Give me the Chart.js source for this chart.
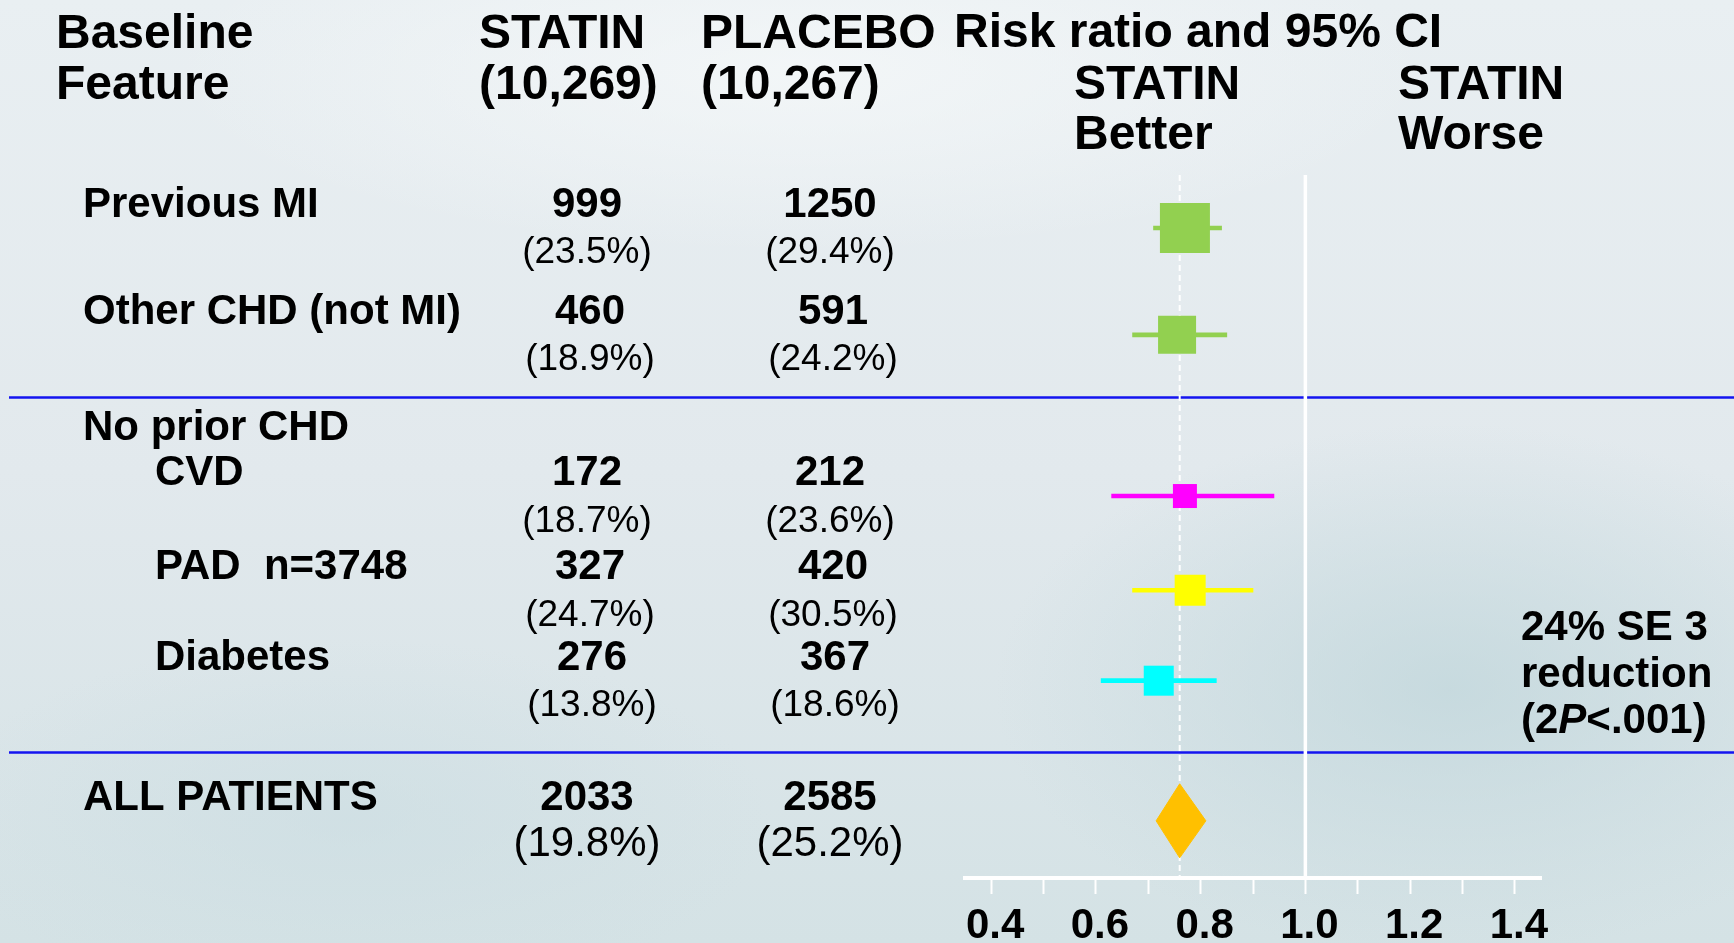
<!DOCTYPE html>
<html>
<head>
<meta charset="utf-8">
<title>Risk ratio by baseline feature</title>
<script src="https://cdn.jsdelivr.net/npm/chart.js@4.4.1/dist/chart.umd.min.js"></script>
<style>
  html, body { margin: 0; padding: 0; overflow: hidden; }
  body {
    width: 1734px;
    height: 943px;
    background:
      radial-gradient(ellipse 650px 380px at 1450px 690px, rgba(192,214,219,0.75), rgba(192,214,219,0) 70%),
      radial-gradient(ellipse 600px 260px at 350px 820px, rgba(203,221,226,0.6), rgba(203,221,226,0) 70%),
      radial-gradient(ellipse 900px 260px at 800px 70px, rgba(245,248,249,0.8), rgba(245,248,249,0) 70%),
      linear-gradient(180deg, #e9eff2 0%, #e2e9ed 50%, #d4e2e5 100%);
  }
  #forest { display: block; }
</style>
</head>
<body>
<canvas id="forest" width="1734" height="943"></canvas>
<script>
const features = ['Previous MI', 'Other CHD (not MI)', 'CVD', 'PAD  n=3748', 'Diabetes', 'ALL PATIENTS'];
const statinEvents = [999, 460, 172, 327, 276, 2033];
const statinPct = [23.5, 18.9, 18.7, 24.7, 13.8, 19.8];
const placeboEvents = [1250, 591, 212, 420, 367, 2585];
const placeboPct = [29.4, 24.2, 23.6, 30.5, 18.6, 25.2];
const riskRatio = [0.77, 0.755, 0.77, 0.78, 0.72, 0.76];
const ciLow = [0.71, 0.67, 0.63, 0.67, 0.61, 0.715];
const ciHigh = [0.84, 0.85, 0.94, 0.90, 0.83, 0.81];
const tickLabels = ['0.4', '0.6', '0.8', '1.0', '1.2', '1.4'];
const statinN = 10269;
const placeboN = 10267;

// layout: row slots on the (hidden) y scale, indented rows, separators
const Y_MIN = 0, Y_MAX = 15;
const rowSlot = [1.13, 3.41, 6.85, 8.86, 10.79, 13.78];
const indented = [false, false, true, true, true, false];
const colNudge = [0, 3, 0, 3, 5, 0];
const separatorSlot = [4.74, 12.32];
const boxColors = ['#92d050', '#92d050', '#ff00ff', '#ffff00', '#00ffff'];
const boxSide = [50, 38, 24, 31, 30];
const DIAMOND_HALF = 0.79;

const FONT = '"Liberation Sans", Arial, Helvetica, sans-serif';
const sub = [0, 1, 2, 3, 4];
const all = 5;

const tablePlugin = {
  id: 'tablePlugin',
  beforeDatasetsDraw(chart) {
    const ctx = chart.ctx;
    const y = chart.scales.y;
    ctx.save();
    ctx.strokeStyle = '#1414f0';
    ctx.lineWidth = 2.5;
    separatorSlot.forEach(s => {
      const py = Math.round(y.getPixelForValue(s)) + 0.5;
      ctx.beginPath();
      ctx.moveTo(9, py);
      ctx.lineTo(chart.width, py);
      ctx.stroke();
    });
    ctx.restore();
  },
  afterDraw(chart) {
    const ctx = chart.ctx;
    const y = chart.scales.y;
    const put = (s, x, py, font, align) => {
      ctx.font = font;
      ctx.textAlign = align || 'left';
      ctx.fillText(s, x, py);
    };
    const head = 'bold 48px ' + FONT;
    const bold = 'bold 42px ' + FONT;
    ctx.save();
    ctx.fillStyle = '#000';
    ctx.textBaseline = 'alphabetic';

    // column headings
    put('Baseline', 56, 47.5, head);
    put('Feature', 56, 99, head);
    put('STATIN', 479, 47.5, head);
    put('(' + statinN.toLocaleString('en-US') + ')', 479, 99, head);
    put('PLACEBO', 701, 47.5, head);
    put('(' + placeboN.toLocaleString('en-US') + ')', 701, 99, head);
    put('Risk ratio and 95% CI', 954, 47, head);
    put('STATIN', 1074, 99, head);
    put('Better', 1074, 149, head);
    put('STATIN', 1398, 99, head);
    put('Worse', 1398, 149, head);

    // one block per row: label, event counts, percentages
    features.forEach((f, i) => {
      const cy = y.getPixelForValue(rowSlot[i]);
      const base = cy - 11;
      const dx = colNudge[i];
      const pctFont = (i === all ? '42px ' : '37px ') + FONT;
      if (i === 2) put('No prior CHD', 83, base - 45, bold);
      put(f, indented[i] ? 155 : 83, base, bold);
      put(String(statinEvents[i]), 587 + dx, base, bold, 'center');
      put(String(placeboEvents[i]), 830 + dx, base, bold, 'center');
      put('(' + statinPct[i].toFixed(1) + '%)', 587 + dx, cy + 35.5, pctFont, 'center');
      put('(' + placeboPct[i].toFixed(1) + '%)', 830 + dx, cy + 35.5, pctFont, 'center');
    });

    // overall reduction note
    const reduction = Math.round((1 - riskRatio[all]) * 100);
    put(reduction + '% SE 3', 1521, 640, bold);
    put('reduction', 1521, 687, bold);
    let nx = 1521;
    [['(2', bold], ['P', 'italic ' + bold], ['<.001)', bold]].forEach(([s, f]) => {
      put(s, nx, 733, f);
      nx += ctx.measureText(s).width;
    });
    ctx.restore();
  }
};

new Chart(document.getElementById('forest'), {
  type: 'scatter',
  data: {
    datasets: [
      {
        type: 'line',
        data: [{ x: 1, y: Y_MIN }, { x: 1, y: Y_MAX }],
        borderColor: '#ffffff',
        borderWidth: 3.5,
        pointRadius: 0,
        order: 6
      },
      {
        type: 'line',
        data: [{ x: riskRatio[all], y: Y_MIN }, { x: riskRatio[all], y: Y_MAX }],
        borderColor: '#ffffff',
        borderWidth: 2,
        borderDash: [6, 4],
        pointRadius: 0,
        order: 5
      },
      {
        type: 'bar',
        indexAxis: 'y',
        data: sub.map(i => ({ y: rowSlot[i], x: [ciLow[i], ciHigh[i]] })),
        backgroundColor: boxColors,
        barThickness: 4,
        borderWidth: 0,
        order: 4
      },
      {
        type: 'scatter',
        data: sub.map(i => ({ x: riskRatio[i], y: rowSlot[i] })),
        pointStyle: 'rect',
        pointRadius: boxSide.map(s => s / Math.SQRT2),
        pointBackgroundColor: boxColors,
        pointBorderWidth: 0,
        order: 3
      },
      {
        type: 'line',
        data: [
          { x: ciLow[all], y: rowSlot[all] },
          { x: riskRatio[all], y: rowSlot[all] - DIAMOND_HALF },
          { x: ciHigh[all], y: rowSlot[all] },
          { x: riskRatio[all], y: rowSlot[all] + DIAMOND_HALF },
          { x: ciLow[all], y: rowSlot[all] }
        ],
        borderColor: '#ffc000',
        backgroundColor: '#ffc000',
        borderWidth: 1,
        fill: 'shape',
        tension: 0,
        pointRadius: 0,
        order: 2
      }
    ]
  },
  options: {
    responsive: false,
    animation: false,
    events: [],
    devicePixelRatio: 1,
    layout: { padding: { left: 965, right: 193, top: 175, bottom: 0 } },
    plugins: {
      legend: { display: false },
      tooltip: { enabled: false }
    },
    scales: {
      x: {
        type: 'linear',
        min: 0.35,
        max: 1.45,
        offset: false,
        afterFit(scale) { scale.height = 65; },
        // tick marks every 0.1 between the end labels
        afterBuildTicks(scale) {
          const ticks = [];
          for (let t = 4; t <= 14; t++) ticks.push({ value: t / 10 });
          scale.ticks = ticks;
        },
        border: { display: true, color: '#ffffff', width: 4 },
        grid: {
          offset: false,
          drawOnChartArea: false,
          drawTicks: true,
          tickLength: 16,
          tickWidth: 2,
          tickColor: '#ffffff'
        },
        ticks: {
          autoSkip: false,
          maxRotation: 0,
          padding: 7,
          labelOffset: 4,
          color: '#000',
          font: { family: FONT, size: 42, weight: 'bold' },
          callback(v) {
            const s = (Math.round(v * 10) / 10).toFixed(1);
            return tickLabels.includes(s) ? s : '';
          }
        }
      },
      y: {
        type: 'linear',
        reverse: true,
        offset: false,
        min: Y_MIN,
        max: Y_MAX,
        display: false,
        grid: { offset: false }
      }
    }
  },
  plugins: [tablePlugin]
});
</script>
</body>
</html>
